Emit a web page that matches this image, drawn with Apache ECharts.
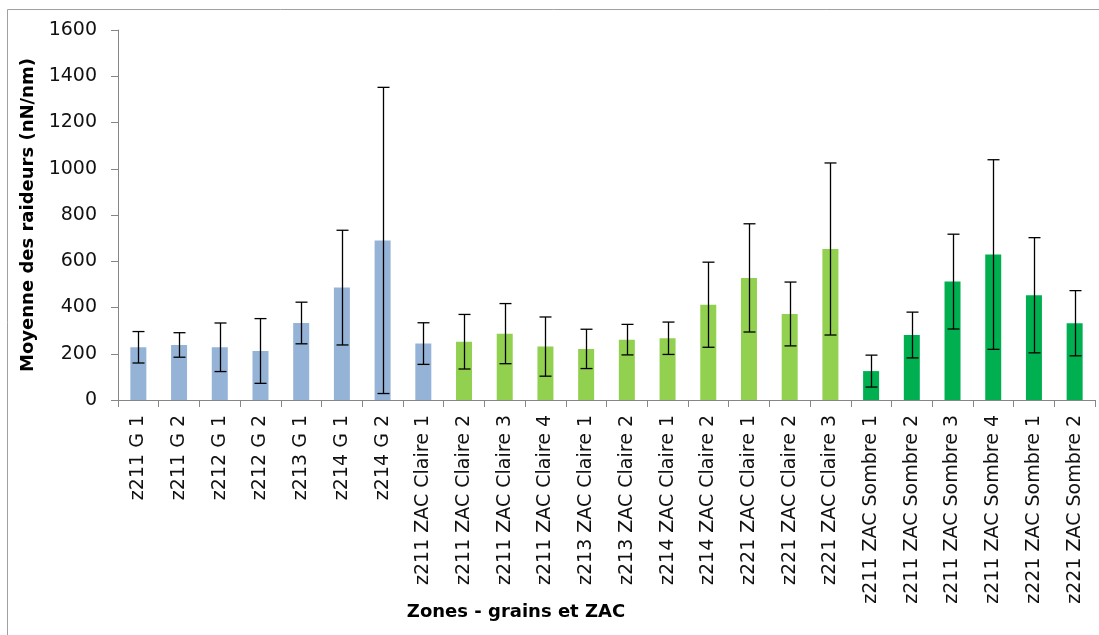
<!DOCTYPE html>
<html>
<head>
<meta charset="utf-8">
<script src="https://cdn.jsdelivr.net/npm/echarts@6/dist/echarts.min.js"></script>
<style>
html,body{margin:0;padding:0;background:#fff;}
#chart{width:1099px;height:635px;}
</style>
</head>
<body>
<div id="chart"></div>
<script>
const categories = [
  'z211 G 1','z211 G 2','z212 G 1','z212 G 2','z213 G 1','z214 G 1','z214 G 2',
  'z211 ZAC Claire 1','z211 ZAC Claire 2','z211 ZAC Claire 3','z211 ZAC Claire 4',
  'z213 ZAC Claire 1','z213 ZAC Claire 2','z214 ZAC Claire 1','z214 ZAC Claire 2',
  'z221 ZAC Claire 1','z221 ZAC Claire 2','z221 ZAC Claire 3',
  'z211 ZAC Sombre 1','z211 ZAC Sombre 2','z211 ZAC Sombre 3','z211 ZAC Sombre 4',
  'z221 ZAC Sombre 1','z221 ZAC Sombre 2'
];
const groups = [
  'grain','grain','grain','grain','grain','grain','grain',
  'grain','claire','claire','claire',
  'claire','claire','claire','claire',
  'claire','claire','claire',
  'sombre','sombre','sombre','sombre',
  'sombre','sombre'
];
const means = [228, 238, 228, 212, 333, 486, 690, 244, 252, 287, 231, 221, 261, 267, 412, 528, 372, 653, 125, 281, 512, 629, 453, 332];
const errors = [68, 53, 105, 140, 90, 248, 662, 90, 118, 130, 128, 85, 66, 70, 184, 234, 138, 372, 69, 99, 205, 410, 249, 141];
const yTicks = {min: 0, max: 1600, interval: 200};

const groupColors = {grain: '#95B3D7', claire: '#92D050', sombre: '#00B050'};
const FONT = 'DejaVu Sans';

const chart = echarts.init(document.getElementById('chart'), null, {renderer: 'canvas'});

const option = {
  backgroundColor: '#ffffff',
  animation: false,
  textStyle: {fontFamily: FONT},
  grid: {left: 118, right: 4, top: 30, bottom: 235, containLabel: false},
  graphic: [
    {type: 'rect', shape: {x: 7.5, y: 9.5, width: 1200, height: 800}, style: {fill: 'none', stroke: '#a0a0a0', lineWidth: 1}, silent: true, z: -1},
    {type: 'text', x: 516, y: 612, style: {text: 'Zones - grains et ZAC', fontFamily: FONT, fontSize: 18, fontWeight: 'bold', fill: '#000', align: 'center', verticalAlign: 'middle'}}
  ],
  xAxis: {
    type: 'category',
    data: categories,
    boundaryGap: true,
    axisLine: {show: true, lineStyle: {color: '#868686', width: 1}},
    axisTick: {show: true, length: 7, interval: 0, lineStyle: {color: '#868686'}},
    axisLabel: {interval: 0, rotate: 90, margin: 15, fontSize: 19, color: '#111', fontFamily: FONT},
    splitLine: {show: false}
  },
  yAxis: {
    type: 'value',
    min: yTicks.min, max: yTicks.max, interval: yTicks.interval,
    name: 'Moyenne des raideurs (nN/nm)',
    nameLocation: 'middle',
    nameGap: 72,
    nameTextStyle: {fontSize: 18, fontWeight: 'bold', color: '#000', fontFamily: FONT},
    axisLine: {show: true, lineStyle: {color: '#868686', width: 1}},
    axisTick: {show: true, length: 7, lineStyle: {color: '#868686'}},
    axisLabel: {margin: 21, fontSize: 19, color: '#111', fontFamily: FONT, formatter: function (v) { return String(v); }},
    splitLine: {show: false}
  },
  series: [
    {
      type: 'bar',
      barWidth: 16,
      data: means.map((v, i) => ({value: v, itemStyle: {color: groupColors[groups[i]]}})),
      z: 2
    },
    {
      type: 'custom',
      z: 5,
      data: means.map((v, i) => [i, v, errors[i]]),
      encode: {x: 0, y: 1},
      renderItem: function (params, api) {
        const idx = api.value(0);
        const m = api.value(1);
        const e = api.value(2);
        const top = api.coord([idx, m + e]);
        const bot = api.coord([idx, m - e]);
        const x = Math.round(top[0]) + 0.5;
        const hw = 6;
        const st = {stroke: '#000', lineWidth: 1.3};
        return {
          type: 'group',
          children: [
            {type: 'line', shape: {x1: x, y1: top[1], x2: x, y2: bot[1]}, style: st},
            {type: 'line', shape: {x1: x - hw, y1: top[1], x2: x + hw, y2: top[1]}, style: st},
            {type: 'line', shape: {x1: x - hw, y1: bot[1], x2: x + hw, y2: bot[1]}, style: st}
          ]
        };
      }
    }
  ]
};
chart.setOption(option);
</script>
</body>
</html>
